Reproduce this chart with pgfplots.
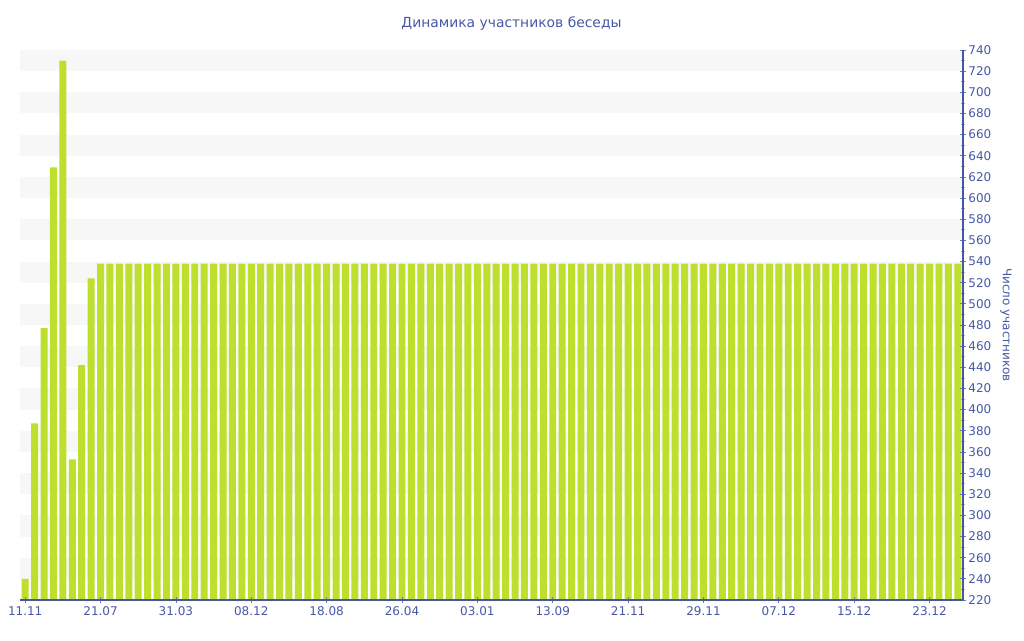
\documentclass[border=0pt]{standalone}
\usepackage{pgfplots}
\pgfplotsset{compat=1.18}
\usepackage{pgfplotstable}
\usepackage{fontspec}
\setmainfont{DejaVu Sans}
\definecolor{txtblue}{RGB}{70,88,165}
\definecolor{barcol}{RGB}{190,223,46}
\definecolor{bandgray}{RGB}{247,247,247}
\pgfplotstableread{
x y
0 240
1 387
2 477
3 629
4 730
5 353
6 442
7 524
8 538
9 538
10 538
11 538
12 538
13 538
14 538
15 538
16 538
17 538
18 538
19 538
20 538
21 538
22 538
23 538
24 538
25 538
26 538
27 538
28 538
29 538
30 538
31 538
32 538
33 538
34 538
35 538
36 538
37 538
38 538
39 538
40 538
41 538
42 538
43 538
44 538
45 538
46 538
47 538
48 538
49 538
50 538
51 538
52 538
53 538
54 538
55 538
56 538
57 538
58 538
59 538
60 538
61 538
62 538
63 538
64 538
65 538
66 538
67 538
68 538
69 538
70 538
71 538
72 538
73 538
74 538
75 538
76 538
77 538
78 538
79 538
80 538
81 538
82 538
83 538
84 538
85 538
86 538
87 538
88 538
89 538
90 538
91 538
92 538
93 538
94 538
95 538
96 538
97 538
98 538
99 538
}\datatable
\begin{document}
\begin{tikzpicture}
\useasboundingbox (-15pt,-30pt) rectangle (753pt,450pt);
\begin{axis}[
  at={(0,0)}, anchor=south west,
  scale only axis,
  width=707.25pt, height=412.5pt,
  xmin=-0.55, xmax=99.55,
  ymin=220, ymax=740,
  axis on top,
  axis x line*=bottom,
  axis y line*=right,
  axis line style={draw=txtblue, line width=0.8pt},
  xtick={0,8,16,24,32,40,48,56,64,72,80,88,96},
  xticklabels={11.11,21.07,31.03,08.12,18.08,26.04,03.01,13.09,21.11,29.11,07.12,15.12,23.12},
  ytick={220,240,...,740},
  minor y tick num=1,
  tick align=center,
  major tick length=5pt,
  minor tick length=3pt,
  tick style={draw=txtblue!80, line width=0.6pt},
  minor tick style={draw=gray!70, line width=0.5pt},
  ticklabel style={font=\fontsize{9}{10}\selectfont, text=txtblue},
  /pgf/number format/assume math mode=true,
  yticklabel style={/pgf/number format/1000 sep={}, xshift=-2pt},
  xticklabel style={yshift=1pt},
  ylabel={Число участников},
  ylabel style={font=\fontsize{9}{10}\selectfont, text=txtblue, rotate=180, yshift=0pt},
  title={Динамика участников беседы},
  title style={font=\fontsize{10.4}{12}\selectfont, text=txtblue, yshift=5pt, xshift=15pt},
  clip=true,
]
\pgfplotsinvokeforeach{240,280,...,720}{
  \fill[bandgray] (axis cs:-0.55,#1) rectangle (axis cs:99.55,#1+20);
}
\addplot[ybar, bar width=0.74, fill=barcol, draw=none] table[x=x,y=y] {\datatable};
\end{axis}
\end{tikzpicture}
\end{document}
